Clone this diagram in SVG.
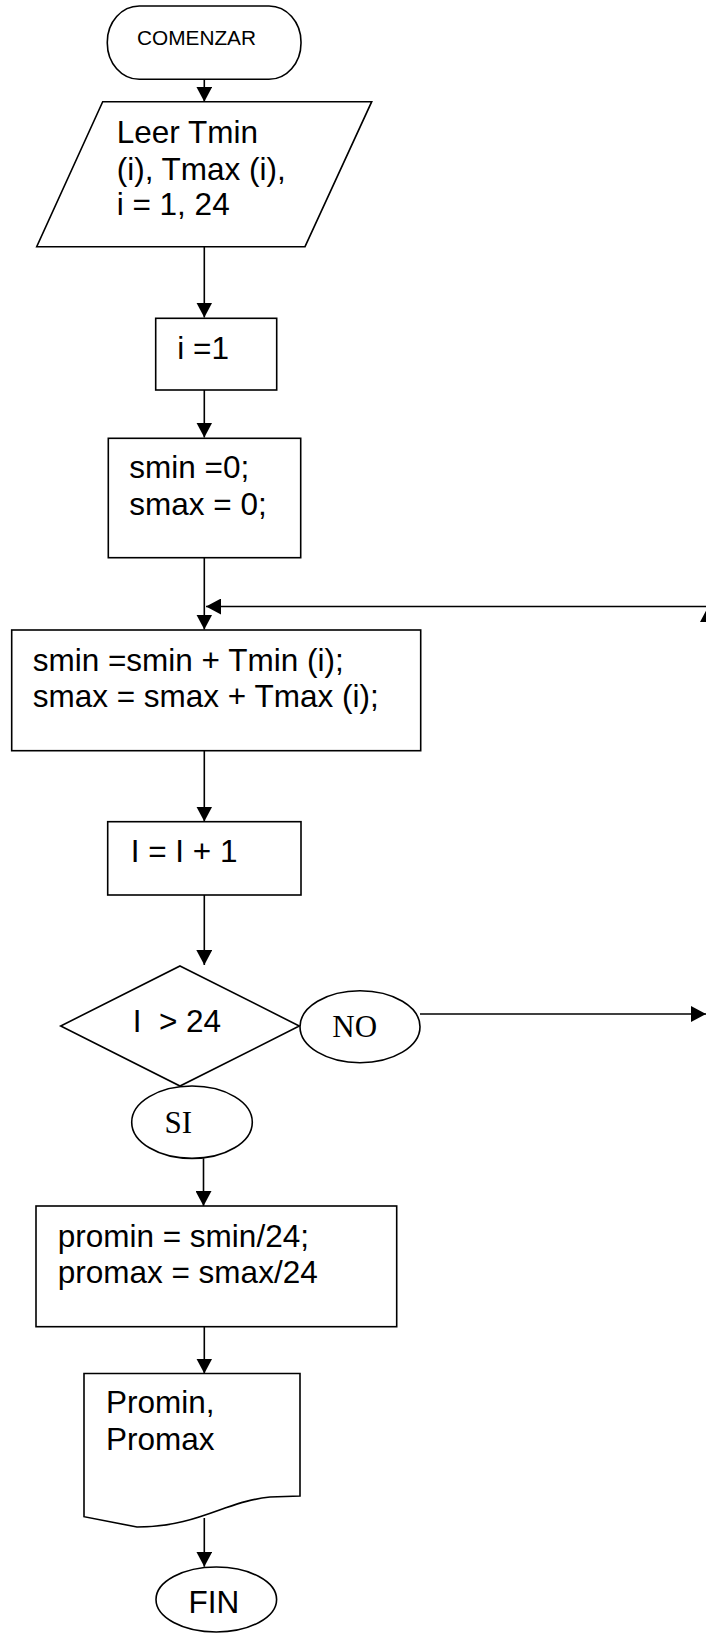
<svg xmlns="http://www.w3.org/2000/svg" width="706" height="1633" viewBox="0 0 706 1633">
<style>
.s{fill:#fff;stroke:#000;stroke-width:1.6}
.c{fill:none;stroke:#000;stroke-width:1.6}
.t{font-family:"Liberation Sans",Arial,sans-serif;font-size:31.5px;fill:#000}
.r{font-family:"Liberation Serif","Times New Roman",serif;font-size:31px;fill:#000}
</style>
<defs>
<marker id="ah" markerUnits="userSpaceOnUse" markerWidth="16" markerHeight="16" refX="15" refY="8" orient="auto">
<path d="M0,0 L15,8 L0,16 z" fill="#000"/>
</marker>
</defs>
<rect width="706" height="1633" fill="#fff"/>
<g id="connectors">
<line class="c" x1="204.3" y1="79" x2="204.3" y2="101.7" marker-end="url(#ah)"/>
<line class="c" x1="204.3" y1="246.7" x2="204.3" y2="317.5" marker-end="url(#ah)"/>
<line class="c" x1="204.3" y1="390" x2="204.3" y2="437.5" marker-end="url(#ah)"/>
<line class="c" x1="204.3" y1="557.7" x2="204.3" y2="629.5" marker-end="url(#ah)"/>
<line class="c" x1="708" y1="606.5" x2="206" y2="606.5" marker-end="url(#ah)"/>
<line class="c" x1="708" y1="1014" x2="708" y2="607" marker-end="url(#ah)"/>
<line class="c" x1="204.3" y1="750.7" x2="204.3" y2="821.5" marker-end="url(#ah)"/>
<line class="c" x1="204.3" y1="895" x2="204.3" y2="965" marker-end="url(#ah)"/>
<line class="c" x1="420" y1="1014" x2="706" y2="1014" marker-end="url(#ah)"/>
<line class="c" x1="203.5" y1="1158.3" x2="203.5" y2="1206" marker-end="url(#ah)"/>
<line class="c" x1="204.3" y1="1326.7" x2="204.3" y2="1373.5" marker-end="url(#ah)"/>
<line class="c" x1="204.3" y1="1518" x2="204.3" y2="1566.7" marker-end="url(#ah)"/>
</g>
<g id="start">
<rect class="s" x="107.3" y="6" width="193.7" height="73.3" rx="32" ry="36"/>
<text class="t" x="137" y="44.5" style="font-size:20.8px">COMENZAR</text>
</g>
<g id="read">
<polygon class="s" points="102.7,101.7 371.7,101.7 305,246.7 36.7,246.7"/>
<text class="t" x="116.7" y="143.3">Leer Tmin</text>
<text class="t" x="116.7" y="179.5">(i), Tmax (i),</text>
<text class="t" x="116.7" y="215">i = 1, 24</text>
</g>
<g id="init-i">
<rect class="s" x="155.7" y="318.3" width="121" height="71.7"/>
<text class="t" x="177.3" y="359">i =1</text>
</g>
<g id="init-s">
<rect class="s" x="108.3" y="438.3" width="192.4" height="119.4"/>
<text class="t" x="129.3" y="478.3">smin =0;</text>
<text class="t" x="129.3" y="515">smax = 0;</text>
</g>
<g id="accum">
<rect class="s" x="11.7" y="630" width="409" height="120.7"/>
<text class="t" x="32.7" y="670.7">smin =smin + Tmin (i);</text>
<text class="t" x="32.7" y="707.3">smax = smax + Tmax (i);</text>
</g>
<g id="incr">
<rect class="s" x="107.7" y="821.7" width="193.3" height="73.3"/>
<text class="t" x="130.7" y="862.3">I = I + 1</text>
</g>
<g id="decision">
<polygon class="s" points="180,966 299.3,1026 180,1086 60.7,1026"/>
<text class="t" x="132.7" y="1031.7" xml:space="preserve">I  &gt; 24</text>
</g>
<g id="no">
<ellipse class="s" cx="360" cy="1026.7" rx="60" ry="36"/>
<text class="r" x="354.7" y="1037.3" text-anchor="middle">NO</text>
</g>
<g id="si">
<ellipse class="s" cx="192" cy="1122.2" rx="60.3" ry="36.2"/>
<text class="r" x="178.3" y="1133.3" text-anchor="middle">SI</text>
</g>
<g id="average">
<rect class="s" x="36" y="1206" width="360.7" height="120.7"/>
<text class="t" x="57.7" y="1246.7">promin = smin/24;</text>
<text class="t" x="57.7" y="1283.3">promax = smax/24</text>
</g>
<g id="output">
<path class="s" d="M84,1373.5 H300 V1496 L270,1497 C252,1499 240,1503 225,1508 C200,1517 175,1527 137,1527 L84,1516.7 Z"/>
<text class="t" x="106" y="1413.3">Promin,</text>
<text class="t" x="106" y="1450">Promax</text>
</g>
<g id="end">
<ellipse class="s" cx="216.3" cy="1599.5" rx="60.3" ry="32.5"/>
<text class="t" x="213.8" y="1613.3" text-anchor="middle">FIN</text>
</g>
</svg>
